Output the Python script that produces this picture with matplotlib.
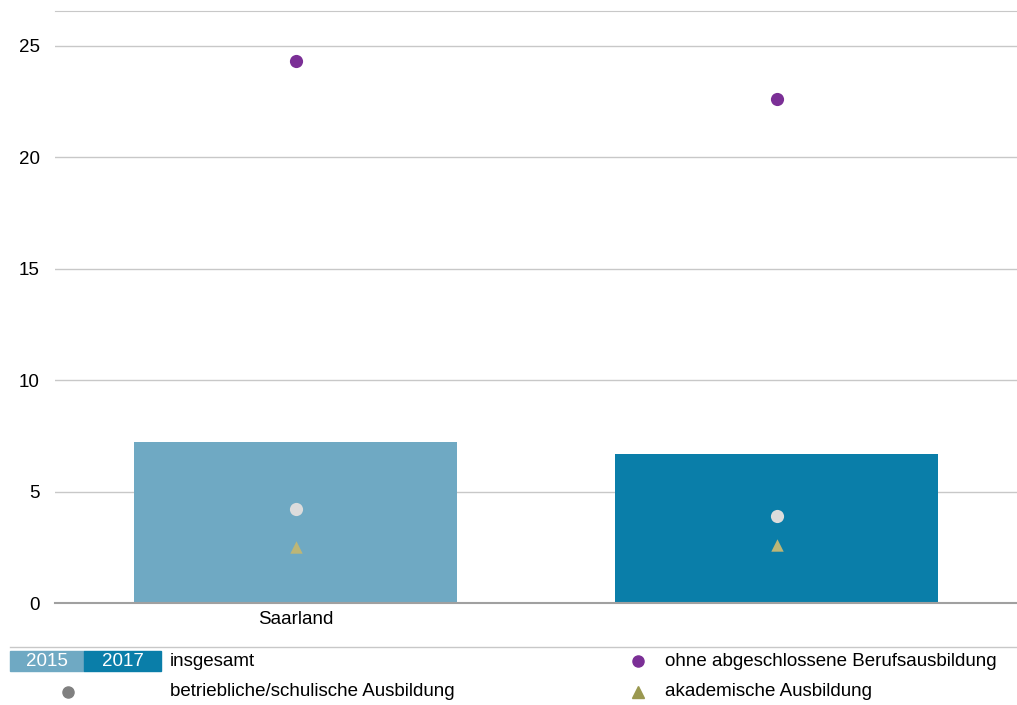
import matplotlib
matplotlib.use("Agg")
import matplotlib.pyplot as plt
from matplotlib.patches import Rectangle
from matplotlib.lines import Line2D

plt.rcParams['font.family'] = ['Liberation Sans', 'DejaVu Sans']

# data
categories = ["Saarland", ""]
years = ["2015", "2017"]
insgesamt = [7.2, 6.7]
ohne_ausbildung = [24.3, 22.6]
betrieblich = [4.2, 3.9]
akademisch = [2.5, 2.6]
y_ticks = [0, 5, 10, 15, 20, 25]

bar_colors = ["#6fa9c3", "#0a7ea9"]
purple = "#7b2f96"
grey_pt = "#dcdcdc"
tri_pt = "#bdb676"
FS = 13.5

fig = plt.figure(figsize=(10.17, 7.05), dpi=100)
ax = fig.add_axes([55 / 1017, 102 / 705, 962 / 1017, 592 / 705])

x = list(range(len(categories)))
ax.bar(x, insgesamt, width=0.67, color=bar_colors, zorder=2)
ax.scatter(x, ohne_ausbildung, s=90, color=purple, zorder=3, linewidths=0)
ax.scatter(x, betrieblich, s=90, color=grey_pt, zorder=3, linewidths=0)
ax.scatter(x, akademisch, s=80, marker="^", color=tri_pt, zorder=3, linewidths=0)

ax.set_xlim(-0.5, 1.5)
ax.set_ylim(0, 26.55)
ax.set_yticks(y_ticks)
ax.set_yticklabels([str(t) for t in y_ticks], fontsize=FS)
ax.set_xticks(x)
ax.set_xticklabels(categories, fontsize=FS)
ax.tick_params(axis="y", length=0, pad=11)
ax.tick_params(axis="x", length=0, pad=6)
ax.yaxis.grid(True, color="#c8c8c8", linewidth=1, zorder=0)
ax.set_axisbelow(True)
for s in ["left", "right"]:
    ax.spines[s].set_visible(False)
ax.spines["top"].set_color("#c8c8c8")
ax.spines["bottom"].set_color("#a0a0a0")
ax.spines["bottom"].set_linewidth(1.5)
ax.spines["bottom"].set_zorder(4)

# legend area
W, H = 1017, 705
fig.add_artist(Line2D([10 / W, 1], [1 - 647 / H, 1 - 647 / H], color="#c8c8c8", lw=1))
box_x = [10, 84]
box_w = [74, 77]
for i, yr in enumerate(years):
    fig.add_artist(Rectangle((box_x[i] / W, 1 - 671 / H), box_w[i] / W, 20 / H,
                             color=bar_colors[i], transform=fig.transFigure))
    fig.text((box_x[i] + box_w[i] / 2) / W, 1 - 661 / H, yr, color="white",
             fontsize=FS, ha="center", va="center")
fig.text(170 / W, 1 - 661 / H, "insgesamt", fontsize=FS, va="center")
fig.add_artist(Line2D([68 / W], [1 - 692 / H], marker="o", markersize=8,
                      color="#808080", lw=0))
fig.text(170 / W, 1 - 692 / H, "betriebliche/schulische Ausbildung", fontsize=FS, va="center")
fig.add_artist(Line2D([638 / W], [1 - 661 / H], marker="o", markersize=8,
                      color=purple, lw=0))
fig.text(665 / W, 1 - 661 / H, "ohne abgeschlossene Berufsausbildung", fontsize=FS, va="center")
fig.add_artist(Line2D([638 / W], [1 - 692 / H], marker="^", markersize=8,
                      color="#9a9850", lw=0))
fig.text(665 / W, 1 - 692 / H, "akademische Ausbildung", fontsize=FS, va="center")

fig.savefig("out.png", dpi=100)
